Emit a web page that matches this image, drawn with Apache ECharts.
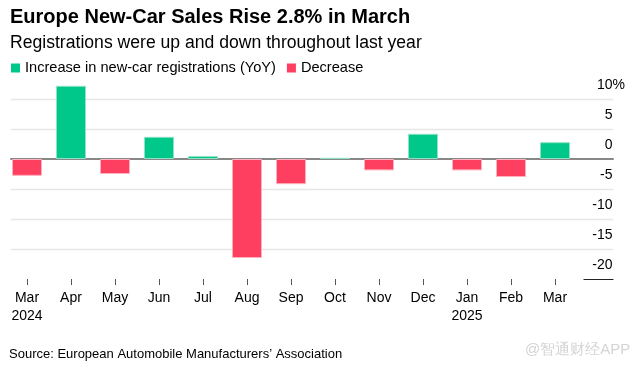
<!DOCTYPE html>
<html>
<head>
<meta charset="utf-8">
<script src="https://cdn.jsdelivr.net/npm/echarts@6/dist/echarts.min.js"></script>
<style>
html,body{margin:0;padding:0;background:#fff;}
#c{width:643px;height:370px;}
</style>
</head>
<body>
<div id="c"></div>
<script>
const categories = ['Mar\n2024','Apr','May','Jun','Jul','Aug','Sep','Oct','Nov','Dec','Jan\n2025','Feb','Mar'];
const yoyChange = [-2.8, 12.2, -2.5, 3.7, 0.5, -16.5, -4.2, 0.2, -1.9, 4.2, -1.9, -3.0, 2.8];
const yTicks = [-20, -15, -10, -5, 0, 5, 10];
const titleText = 'Europe New-Car Sales Rise 2.8% in March';
const subtitleText = 'Registrations were up and down throughout last year';
const sourceText = 'Source: European Automobile Manufacturers\u2019 Association';
const watermarkText = '@智通财经APP';
const increaseName = 'Increase in new-car registrations (YoY)';
const decreaseName = 'Decrease';

const increase = yoyChange.map(v => v >= 0 ? v : '-');
const decrease = yoyChange.map(v => v < 0 ? v : '-');

const FONT = '"Liberation Sans", Arial, sans-serif';
const GREEN = '#00c88a';
const RED = '#ff3f60';
const yMin = Math.min(...yTicks), yMax = Math.max(...yTicks);
const yStep = yTicks[1] - yTicks[0];

const chart = echarts.init(document.getElementById('c'), null, {renderer: 'canvas'});
chart.setOption({
  animation: false,
  textStyle: {fontFamily: FONT},
  title: [
    {text: titleText, left: 10, top: 6, padding: 0,
     textStyle: {fontFamily: FONT, fontSize: 20, fontWeight: 'bold', color: '#000', lineHeight: 22}},
    {text: subtitleText, left: 10, top: 33, padding: 0,
     textStyle: {fontFamily: FONT, fontSize: 17.6, fontWeight: 'normal', color: '#000', lineHeight: 20}},
    {text: sourceText, left: 9, top: 346, padding: 0,
     textStyle: {fontFamily: FONT, fontSize: 13, fontWeight: 'normal', color: '#000', lineHeight: 16}},
    {text: watermarkText, left: 525, top: 341, padding: 0,
     textStyle: {fontFamily: FONT, fontSize: 15, fontWeight: 'normal', color: '#d4d4d4', lineHeight: 18}}
  ],
  legend: {
    left: 11, top: 60, padding: 0,
    itemWidth: 9, itemHeight: 9, itemGap: 11,
    icon: 'rect',
    itemStyle: {borderWidth: 0},
    textStyle: {fontFamily: FONT, fontSize: 14.6, color: '#000', lineHeight: 16},
    data: [increaseName, decreaseName]
  },
  grid: [
    {left: 5, width: 572, top: 99, height: 180},
    {left: 11, right: 30, top: 99, height: 180},
    {left: 584, right: 30, top: 99, height: 180}
  ],
  xAxis: [
    {type: 'category', gridIndex: 0, data: categories,
     axisLine: {show: false, onZero: false},
     axisTick: {show: true, alignWithLabel: true, length: 6, lineStyle: {color: '#555', width: 1}},
     axisLabel: {interval: 0, margin: 10, fontFamily: FONT, fontSize: 14, lineHeight: 18, color: '#000'},
     splitLine: {show: false}},
    {type: 'value', gridIndex: 1, min: 0, max: 1,
     axisLine: {show: true, onZero: true, lineStyle: {color: '#888', width: 2}},
     axisTick: {show: false}, axisLabel: {show: false}, splitLine: {show: false}},
    {type: 'value', gridIndex: 2, min: 0, max: 1,
     axisLine: {show: true, onZero: false, lineStyle: {color: '#222', width: 1.2}},
     axisTick: {show: false}, axisLabel: {show: false}, splitLine: {show: false}}
  ],
  yAxis: [
    {type: 'value', gridIndex: 0, min: yMin, max: yMax, interval: yStep, show: false},
    {type: 'value', gridIndex: 1, min: yMin, max: yMax, interval: yStep, position: 'right',
     axisLine: {show: false}, axisTick: {show: false},
     splitLine: {show: true, lineStyle: {width: 1.3,
       color: yTicks.map(v => (v === yMin || v === 0) ? 'rgba(0,0,0,0)' : '#e6e6e6')}},
     axisLabel: {inside: true, margin: -12, verticalAlign: 'bottom', padding: [0, 0, 6, 0],
       formatter: v => v === yMax ? '{n|' + v + '}{p|%}' : '{n|' + v + '}{t|%}',
       rich: {
         n: {fontFamily: FONT, fontSize: 14, color: '#000', lineHeight: 16},
         p: {fontFamily: FONT, fontSize: 14, color: '#000', lineHeight: 16},
         t: {fontFamily: FONT, fontSize: 14, color: 'rgba(0,0,0,0)', lineHeight: 16}
       }}},
    {type: 'value', gridIndex: 2, min: yMin, max: yMax, interval: yStep, show: false}
  ],
  series: [
    {name: increaseName, type: 'bar', xAxisIndex: 0, yAxisIndex: 0, data: increase,
     barWidth: 30, barGap: '-100%', clip: false, z: 3,
     itemStyle: {color: GREEN, borderColor: '#8fe2c6', borderWidth: 1}},
    {name: decreaseName, type: 'bar', xAxisIndex: 0, yAxisIndex: 0, data: decrease,
     barWidth: 30, barGap: '-100%', clip: false, z: 3,
     itemStyle: {color: RED, borderColor: '#ffb0bd', borderWidth: 1}}
  ]
});
</script>
</body>
</html>
